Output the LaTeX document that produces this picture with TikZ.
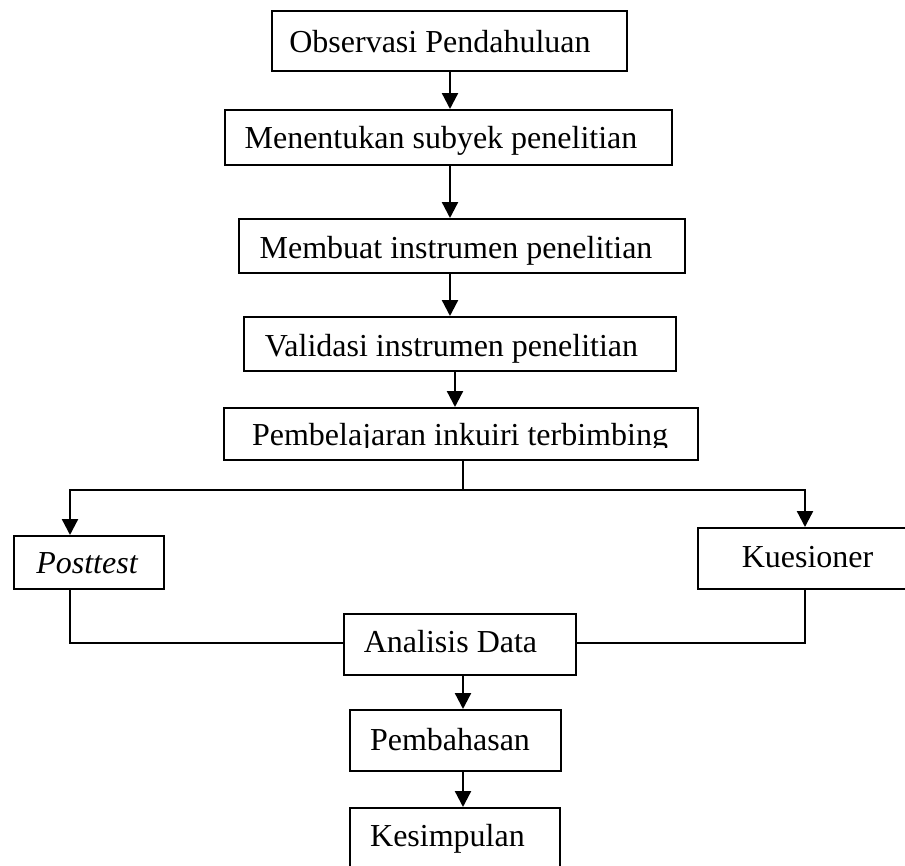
\documentclass[tikz,border=0pt]{standalone}
\usepackage{fontspec}
\setmainfont{Liberation Serif}
\usetikzlibrary{arrows.meta}
\begin{document}
\begin{tikzpicture}[x=1pt,y=-1pt,
  box/.style={draw, line width=2pt, inner sep=0pt, anchor=north west},
  txt/.style={anchor=base, inner sep=0pt, font=\fontsize{32}{38}\selectfont},
  ln/.style={line width=2.1pt},
  arr/.style={line width=2.3pt, -{Triangle[length=16pt,width=16pt]}}]
\path[use as bounding box, clip] (0,0) rectangle (905,865);
\fill[white] (0,0) rectangle (905,865);
% boxes
\node[box, minimum width=355pt, minimum height=60pt] (b1) at (271,10) {};
\node[box, minimum width=447pt, minimum height=55pt] (b2) at (224,109) {};
\node[box, minimum width=446pt, minimum height=54pt] (b3) at (238,218) {};
\node[box, minimum width=432pt, minimum height=54pt] (b4) at (243,316) {};
\node[box, minimum width=474pt, minimum height=52pt] (b5) at (223,407) {};
\node[box, minimum width=150pt, minimum height=53pt] (b6) at (13,535) {};
\node[box, minimum width=223pt, minimum height=61pt] (b7) at (697,527) {};
\node[box, minimum width=232pt, minimum height=61pt] (b8) at (343,613) {};
\node[box, minimum width=211pt, minimum height=61pt] (b9) at (349,709) {};
\node[box, minimum width=210pt, minimum height=75pt] (b10) at (349,807) {};
% texts
\node[txt] (t1) at (440,52) {Observasi Pendahuluan};
\node[txt] (t2) at (441,148) {Menentukan subyek penelitian};
\node[txt] (t3) at (456,258) {Membuat instrumen penelitian};
\node[txt] (t4) at (451.5,356) {Validasi instrumen penelitian};
\begin{scope}
\clip (223,400) rectangle (697,447.5);
\node[txt] (t5) at (460,445) {Pembelajaran inkuiri terbimbing};
\end{scope}
\node[txt] (t6) at (87,573) {\itshape Posttest};
\node[txt] (t7) at (807.5,567) {Kuesioner};
\node[txt] (t8) at (450.5,652) {Analisis Data};
\node[txt] (t9) at (450,750) {Pembahasan};
\node[txt] (t10) at (447.5,846) {Kesimpulan};
% helper coordinates
\coordinate (x1) at (450,0);
\coordinate (x2) at (455,0);
\coordinate (x3) at (463,0);
\coordinate (xl) at (70,0);
\coordinate (xr) at (805,0);
\coordinate (ym) at (0,490);
\coordinate (yb) at (0,643);
% connectors
\draw[arr] (b1.south -| x1) -- (b2.north -| x1);
\draw[arr] (b2.south -| x1) -- (b3.north -| x1);
\draw[arr] (b3.south -| x1) -- (b4.north -| x1);
\draw[arr] (b4.south -| x2) -- (b5.north -| x2);
\draw[ln] (b5.south -| x3) -- (x3 |- ym);
\draw[arr] (x3 |- ym) -| (b6.north -| xl);
\draw[arr] (x3 |- ym) -| (b7.north -| xr);
\draw[ln] (b6.south -| xl) |- (b8.west |- yb);
\draw[ln] (b7.south -| xr) |- (b8.east |- yb);
\draw[arr] (b8.south -| x3) -- (b9.north -| x3);
\draw[arr] (b9.south -| x3) -- (b10.north -| x3);
\end{tikzpicture}
\end{document}
